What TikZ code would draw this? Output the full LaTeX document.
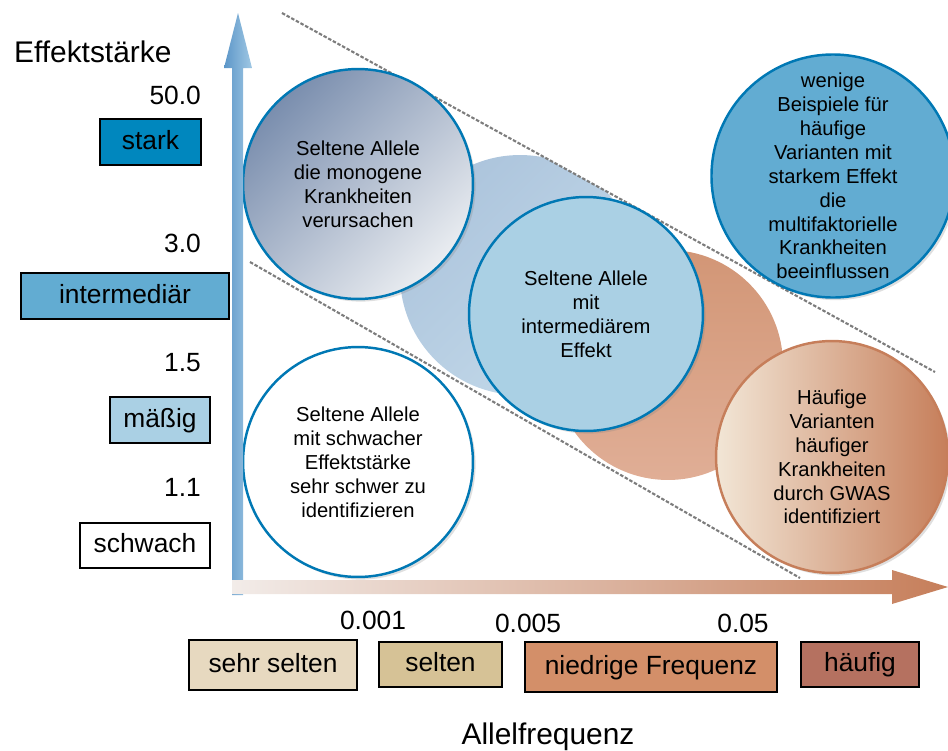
\documentclass[tikz,border=0pt]{standalone}
\usepackage{fontspec}
\setmainfont{Liberation Sans}
\usetikzlibrary{shadows}

\definecolor{starkblue}{RGB}{0,135,190}
\definecolor{midblue}{RGB}{98,172,210}
\definecolor{paleblue}{RGB}{170,208,228}
\definecolor{ringblue}{RGB}{0,120,180}
\definecolor{slate}{RGB}{122,142,174}
\definecolor{fog}{RGB}{234,237,241}
\definecolor{sand}{RGB}{231,217,192}
\definecolor{straw}{RGB}{214,194,150}
\definecolor{clay}{RGB}{211,143,105}
\definecolor{brick}{RGB}{181,113,96}
\definecolor{rust}{RGB}{198,126,90}
\definecolor{peach}{RGB}{242,230,214}
\definecolor{dashgray}{RGB}{125,125,125}

\begin{document}
\begin{tikzpicture}[x=0.02cm,y=-0.02cm,
  lab/.style={font=\fontsize{15}{18}\selectfont},
  box/.style={draw=black,line width=1.2pt,lab,inner sep=0pt,text height=11pt,text depth=3pt},
  blob/.style={circle,draw=ringblue,line width=1.4pt,minimum size=4.6cm,inner sep=0pt,
    align=center,font=\fontsize{11.5}{13.6}\selectfont,
    drop shadow={opacity=0.25,shadow xshift=1.5pt,shadow yshift=-1.5pt}},
  limit/.style={draw=dashgray,line width=1.2pt,dash pattern=on 2pt off 1pt}]
  \useasboundingbox (0,0) rectangle (948,751);
  \def\yax{238}
  \def\xax{587}
  % faded circles in the back, kept inside the band
  \begin{scope}
    \clip (200,-32) -- (1000,408) -- (1000,693) -- (200,233) -- cycle;
    \shade[top color={rgb,255:red,172;green,196;blue,220},bottom color={rgb,255:red,196;green,218;blue,234},shading angle=45]
      (520,275) circle[radius=2.4cm];
    \shade[top color={rgb,255:red,210;green,150;blue,118},bottom color={rgb,255:red,224;green,174;blue,150}]
      (668,365) circle[radius=2.3cm];
  \end{scope}
  %
  \coordinate (hiA) at (282,13);
  \coordinate (hiB) at (935,372);
  \coordinate (loA) at (250,262);
  \coordinate (loB) at (800,578);
  \draw[limit] (hiA) -- (hiB);
  \draw[limit] (loA) -- (loB);
  %
  \node[blob,top color=slate,bottom color=fog,shading angle=45] (mono) at (358,184)
    {Seltene Allele\\die monogene\\Krankheiten\\verursachen};
  \node[blob,fill=paleblue,minimum size=4.68cm] (inter) at (586,314)
    {Seltene Allele\\mit\\intermediärem\\Effekt};
  \node[blob,fill=midblue] (wenige) at (833,176)
    {wenige\\Beispiele für\\häufige\\Varianten mit\\starkem Effekt\\die\\multifaktorielle\\Krankheiten\\beeinflussen};
  \node[blob,draw=rust,left color=peach,right color=rust,minimum size=4.64cm] (gwas) at (832,457)
    {Häufige\\Varianten\\häufiger\\Krankheiten\\durch GWAS\\identifiziert};
  \node[blob,fill=white] (schwer) at (358,462)
    {Seltene Allele\\mit schwacher\\Effektstärke\\sehr schwer zu\\identifizieren};
  %
  % axes
  \shade[left color={rgb,255:red,92;green,150;blue,200},right color={rgb,255:red,160;green,200;blue,228}]
    (\yax-6,595) -- (\yax-6,68) -- (\yax-14,68) -- (\yax,13) -- (\yax+14,68) -- (\yax+5,68) -- (\yax+5,595) -- cycle;
  \shade[left color={rgb,255:red,242;green,236;blue,233},right color=rust]
    (232,\xax-7) -- (892,\xax-7) -- (892,\xax-17) -- (948,\xax) -- (892,\xax+17) -- (892,\xax+7) -- (232,\xax+7) -- cycle;
  %
  \node[anchor=west,font=\fontsize{17}{20}\selectfont] (ytitle) at (8,52) {Effektstärke};
  \node[font=\fontsize{17}{20}\selectfont] (xtitle) at (548,737) {Allelfrequenz};
  %
  \foreach \nm/\v/\y in {vA/50.0/95,vB/3.0/243,vC/1.5/363,vD/1.1/487}
    \node[lab,anchor=east] (\nm) at (207,\y) {\v};
  \foreach \nm/\v/\x/\y in {fA/0.001/373/620,fB/0.005/528/623,fC/0.05/743/623}
    \node[lab] (\nm) at (\x,\y) {\v};
  %
  \foreach \nm/\txt/\col/\x/\y/\w/\h in {
      stark/stark/starkblue/150.5/142/2.02/0.92,
      interm/intermediär/midblue/125/296/4.16/0.92,
      maessig/mäßig/paleblue/160/420/2.0/0.92,
      schwach/schwach/white/145/545.5/2.6/0.9}
    \node[box,fill=\col,minimum width=\w cm,minimum height=\h cm] (\nm) at (\x,\y) {\txt};
  \foreach \nm/\txt/\col/\x/\y/\w/\h in {
      sehrselten/sehr selten/sand/273/665/3.36/1.0,
      selten/selten/straw/440.5/664.5/2.46/0.9,
      niedrig/niedrige Frequenz/clay/651/667/5.04/1.0,
      haeufig/häufig/brick/860/664.5/2.36/0.9}
    \node[box,fill=\col,minimum width=\w cm,minimum height=\h cm] (\nm) at (\x,\y) {\txt};
  %
\end{tikzpicture}
\end{document}
